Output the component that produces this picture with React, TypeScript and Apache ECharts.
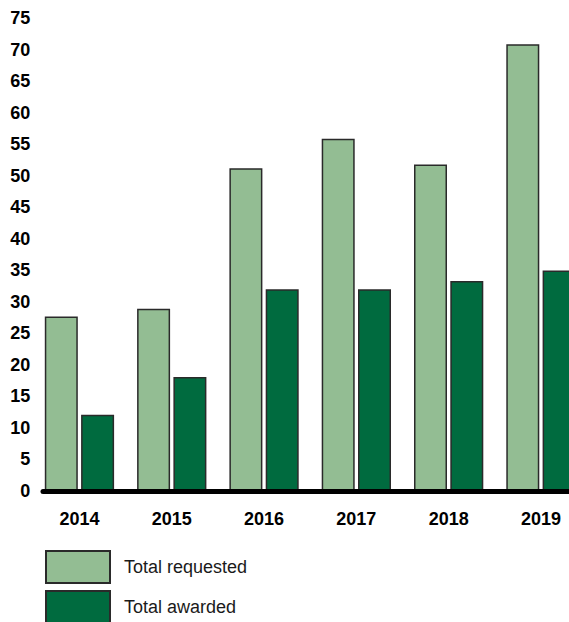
import React, { useEffect, useRef } from "react";
import * as echarts from "echarts";

const years = ["2014", "2015", "2016", "2017", "2018", "2019"];
const totalRequested = [27.7, 28.9, 51.2, 55.9, 51.8, 70.9];
const totalAwarded = [12.1, 18.1, 32.0, 32.0, 33.3, 35.0];
const yTicks = { min: 0, max: 75, interval: 5 };
const seriesNames = ["Total requested", "Total awarded"];

const FONT = "'Liberation Sans', Arial, Helvetica, sans-serif";
const LIGHT = "#93BD93";
const DARK = "#006B3F";
const EDGE = "#2a2a2a";

function legendFor(name: string, top: number) {
  return {
    orient: "vertical",
    left: 45,
    top,
    padding: 0,
    itemWidth: 64,
    itemHeight: 32,
    icon: "rect",
    data: [name],
    textStyle: {
      fontFamily: FONT,
      fontSize: 18,
      color: "#1a1a1a",
      padding: [0, 0, 0, 9],
    },
  };
}

export default function App() {
  const ref = useRef<HTMLDivElement>(null);

  useEffect(() => {
    if (!ref.current) return;
    const chart = echarts.init(ref.current, null, { renderer: "svg" });
    chart.setOption({
      animation: false,
      backgroundColor: "#ffffff",
      textStyle: { fontFamily: FONT },
      grid: [
        { left: 33.3, width: 553.8, top: 18.3, bottom: 131, outerBoundsMode: "none", containLabel: false },
        { left: 43, width: 560, top: 18.3, bottom: 131, outerBoundsMode: "none", containLabel: false },
      ],
      legend: [legendFor(seriesNames[0], 550), legendFor(seriesNames[1], 590)],
      xAxis: [
        {
          type: "category",
          gridIndex: 0,
          data: years,
          boundaryGap: true,
          axisLine: { show: false },
          axisTick: { show: false },
          axisLabel: {
            fontFamily: FONT,
            fontSize: 18,
            fontWeight: "bold",
            color: "#000",
            margin: 19,
          },
        },
        {
          type: "value",
          gridIndex: 1,
          position: "bottom",
          min: 0,
          max: 1,
          z: 5,
          axisLine: { show: true, onZero: false, lineStyle: { color: "#000", width: 5 } },
          axisTick: { show: false },
          axisLabel: { show: false },
          splitLine: { show: false },
        },
      ],
      yAxis: [
        {
          type: "value",
          gridIndex: 0,
          min: yTicks.min,
          max: yTicks.max,
          interval: yTicks.interval,
          axisLine: { show: false },
          axisTick: { show: false },
          splitLine: { show: false },
          axisLabel: {
            fontFamily: FONT,
            fontSize: 18,
            fontWeight: "bold",
            color: "#000",
            margin: 3,
          },
        },
        {
          type: "value",
          gridIndex: 1,
          min: 0,
          max: 1,
          show: false,
        },
      ],
      series: [
        {
          name: seriesNames[0],
          type: "bar",
          xAxisIndex: 0,
          yAxisIndex: 0,
          data: totalRequested,
          barWidth: 33,
          barGap: "10%",
          itemStyle: { color: LIGHT, borderColor: EDGE, borderWidth: 1.5 },
        },
        {
          name: seriesNames[1],
          type: "bar",
          xAxisIndex: 0,
          yAxisIndex: 0,
          data: totalAwarded,
          barWidth: 33,
          barGap: "10%",
          itemStyle: { color: DARK, borderColor: EDGE, borderWidth: 1.5 },
        },
      ],
    });
    return () => chart.dispose();
  }, []);

  return (
    <div
      ref={ref}
      style={{ position: "fixed", left: 0, top: 0, width: 569, height: 622 }}
    />
  );
}
